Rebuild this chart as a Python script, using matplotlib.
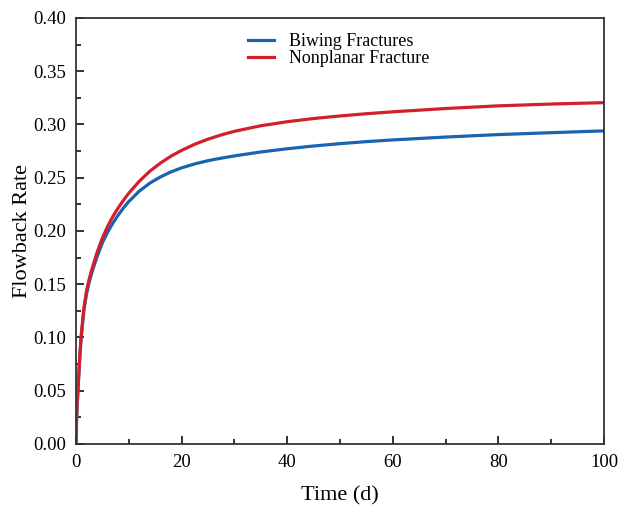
import numpy as np
import matplotlib
matplotlib.use("Agg")
import matplotlib.pyplot as plt
from matplotlib.ticker import MultipleLocator

plt.rcParams['font.family'] = ['Liberation Serif', 'DejaVu Serif']

# Flowback rate vs. time for the two fracture geometries
time_d = [0, 0.1, 0.25, 0.5, 0.75, 1, 1.5, 2, 2.5, 3, 4, 5, 6, 7, 8, 9, 10,
          12, 14, 16, 18, 20, 22.5, 25, 27.5, 30, 35, 40, 45, 50, 55, 60,
          70, 80, 90, 100]
biwing = [0, 0.022, 0.039, 0.062, 0.084, 0.101, 0.126, 0.141, 0.152, 0.161,
          0.176, 0.189, 0.199, 0.2075, 0.215, 0.2217, 0.2277, 0.2375, 0.245,
          0.2508, 0.2555, 0.2593, 0.263, 0.266, 0.2684, 0.2705, 0.2742,
          0.2772, 0.2798, 0.282, 0.2839, 0.2855, 0.2882, 0.2905, 0.2923, 0.294]
nonplanar = [0, 0.023, 0.040, 0.063, 0.086, 0.103, 0.128, 0.144, 0.155, 0.164,
             0.180, 0.1935, 0.2045, 0.2138, 0.2218, 0.229, 0.2355, 0.2468,
             0.2562, 0.2638, 0.2703, 0.2757, 0.2815, 0.2862, 0.2902, 0.2936,
             0.2988, 0.3026, 0.3056, 0.308, 0.3101, 0.3119, 0.315, 0.3175,
             0.3192, 0.3205]

fig = plt.figure(figsize=(6.19, 5.05), dpi=100)
ax = fig.add_axes([0.1228, 0.1208, 0.8530, 0.8436])

ax.plot(time_d, biwing, color='#1a63b0', lw=2.3, label='Biwing Fractures')
ax.plot(time_d, nonplanar, color='#d2202b', lw=2.3, label='Nonplanar Fracture')

ax.set_xlim(0, 100)
ax.set_ylim(0, 0.40)
ax.xaxis.set_major_locator(MultipleLocator(20))
ax.xaxis.set_minor_locator(MultipleLocator(10))
ax.yaxis.set_major_locator(MultipleLocator(0.05))
ax.yaxis.set_minor_locator(MultipleLocator(0.025))
ax.yaxis.set_major_formatter(plt.FormatStrFormatter('%.2f'))

ax.tick_params(which='both', direction='in', width=1.3, colors='#222222',
               labelcolor='black', labelsize=13.5)
ax.tick_params(which='major', length=6, pad=7)
ax.tick_params(which='minor', length=3.5)
for s in ax.spines.values():
    s.set_linewidth(1.3)
    s.set_color('#333333')

ax.set_xlabel('Time (d)', fontsize=16, labelpad=11)
ax.set_ylabel('Flowback Rate', fontsize=16, labelpad=1)

ax.legend(loc='upper center', bbox_to_anchor=(0.497, 1.003), frameon=False,
          fontsize=13, handlelength=1.45, handletextpad=0.8, labelspacing=0.0)

fig.savefig('out.png', dpi=100)
